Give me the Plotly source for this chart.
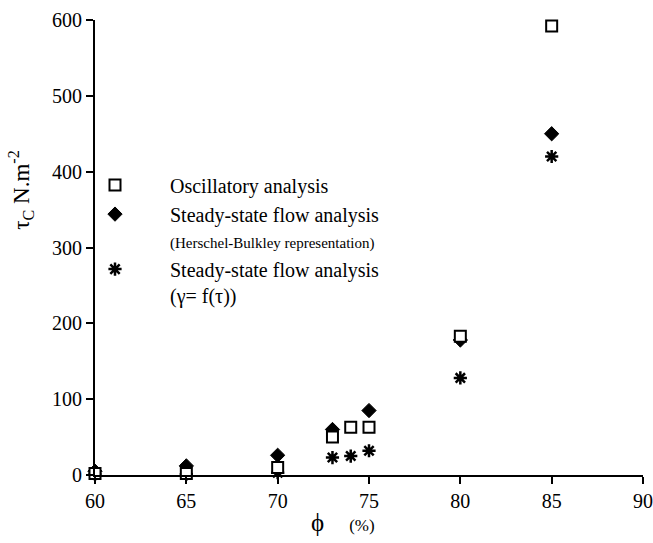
import plotly.graph_objects as go

x_osc = [60, 65, 70, 73, 74, 75, 80, 85]
y_osc = [2, 2, 10, 50, 63, 63, 183, 592]
x_hb = [60, 65, 70, 73, 75, 80, 85]
y_hb = [5, 12, 26, 60, 85, 178, 450]
x_gam = [60, 65, 70, 73, 74, 75, 80, 85]
y_gam = [1, 1, 3, 23, 25, 32, 128, 420]

x_ticks = [60, 65, 70, 75, 80, 85, 90]
y_ticks = [0, 100, 200, 300, 400, 500, 600]

FONT = "Liberation Serif"
pad = "\u00a0" * 7


def serif(v):
    return f"<span style='font-family:Liberation Serif'>{v}</span>"


fig = go.Figure()
fig.add_trace(go.Scatter(
    x=x_gam, y=y_gam, mode="markers", cliponaxis=False,
    name=pad + "Steady-state flow analysis<br>" + pad + "(γ= f(τ))",
    marker=dict(symbol="asterisk-open", size=11, color="black",
                line=dict(color="black", width=2.5)),
    legendrank=3))
fig.add_trace(go.Scatter(
    x=x_hb, y=y_hb, mode="markers", cliponaxis=False,
    name=pad + "Steady-state flow analysis<br>" + pad
    + "<span style='font-size:15px'>(Herschel-Bulkley representation)</span>",
    marker=dict(symbol="diamond", size=11, color="black",
                line=dict(color="black", width=1)),
    legendrank=2))
fig.add_trace(go.Scatter(
    x=x_osc, y=y_osc, mode="markers", cliponaxis=False,
    name=pad + "Oscillatory analysis",
    marker=dict(symbol="square", size=11, color="white",
                line=dict(color="black", width=2)),
    legendrank=1))

axis_common = dict(showline=True, linewidth=2, linecolor="black",
                   ticks="outside", ticklen=7, tickwidth=2, tickcolor="black",
                   showgrid=False, zeroline=False, automargin=False,
                   tickfont=dict(family=FONT, size=20, color="black"))

fig.update_layout(
    width=653, height=543,
    margin=dict(l=95, r=10, t=20, b=68),
    plot_bgcolor="white", paper_bgcolor="white",
    font=dict(family=FONT, size=18, color="black"),
    showlegend=True,
    legend=dict(x=0.0, y=0.68, xanchor="left", yanchor="top",
                bgcolor="rgba(0,0,0,0)", font=dict(family=FONT, size=20, color="black"),
                tracegroupgap=0, valign="top", traceorder="normal"),
    xaxis=dict(range=[60, 90], tickmode="array", tickvals=x_ticks,
               ticktext=[serif(v) for v in x_ticks], **axis_common),
    yaxis=dict(range=[0, 600], tickmode="array", tickvals=y_ticks,
               ticktext=[serif(v) for v in y_ticks], **axis_common),
    annotations=[
        dict(text="τ<sub>C</sub> N.m<sup>-2</sup>", xref="paper", yref="paper",
             x=-0.135, y=0.625, textangle=-90, showarrow=False,
             font=dict(family=FONT, size=23, color="black"),
             xanchor="center", yanchor="middle"),
        dict(text="ϕ\u00a0\u00a0\u00a0\u00a0<span style='font-size:17px'>(%)</span>",
             xref="paper", yref="paper",
             x=0.452, y=-0.105, showarrow=False,
             font=dict(family=FONT, size=25, color="black"),
             xanchor="center", yanchor="middle"),
    ],
)

fig.write_html("out.html")
